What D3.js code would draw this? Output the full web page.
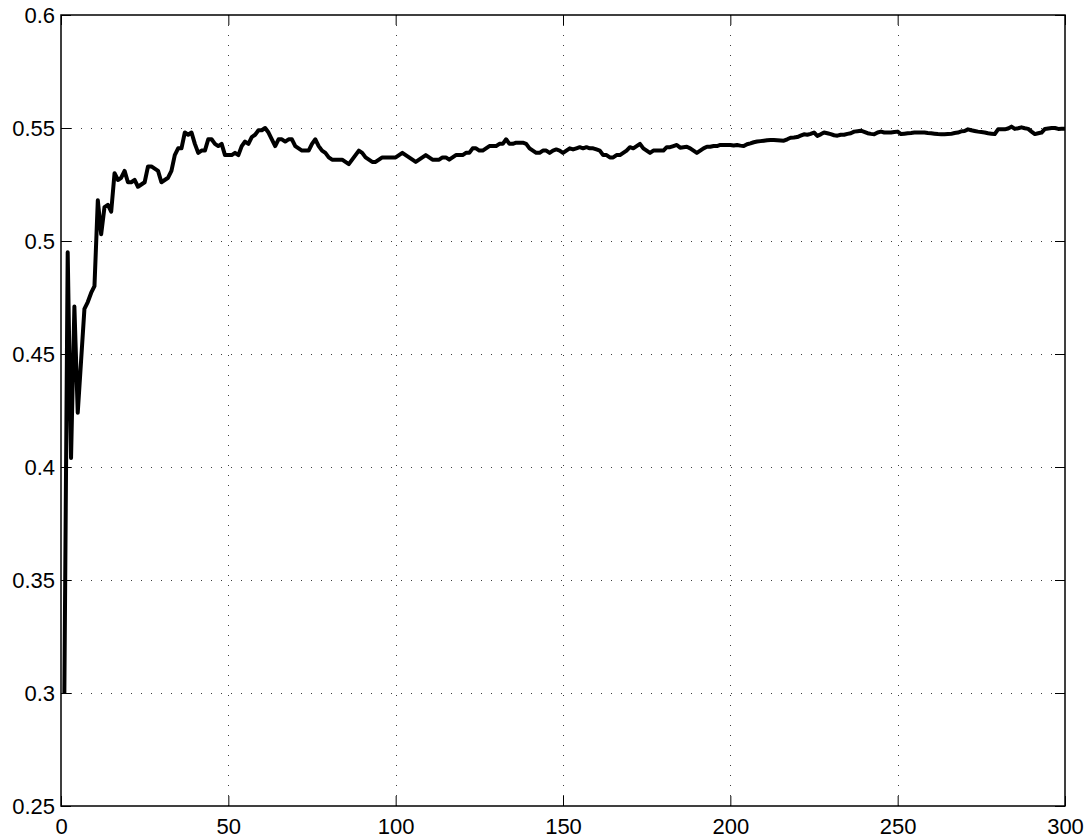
<!DOCTYPE html>
<html>
<head>
<meta charset="utf-8">
<script src="https://cdn.jsdelivr.net/npm/d3@7"></script>
<style>
  html, body { margin: 0; padding: 0; background: #fff; }
  svg { display: block; }
  text { font-family: "Liberation Sans", Arial, Helvetica, sans-serif; }
</style>
</head>
<body>
<svg id="chart" width="1088" height="839"></svg>
<script>
// ---- data ----
const xTicks = [0, 50, 100, 150, 200, 250, 300];
const yTicks = [0.25, 0.3, 0.35, 0.4, 0.45, 0.5, 0.55, 0.6];
const xDomain = [0, 300];
const yDomain = [0.25, 0.6];

const values = [
  0.300, 0.495, 0.404, 0.471, 0.424, 0.447, 0.470, 0.473, 0.477, 0.480,
  0.518, 0.503, 0.515, 0.516, 0.513, 0.530, 0.527, 0.528, 0.531, 0.526,
  0.526, 0.527, 0.524, 0.525, 0.526, 0.533, 0.533, 0.532, 0.531, 0.526,
  0.527, 0.528, 0.531, 0.538, 0.541, 0.541, 0.548, 0.547, 0.548, 0.543,
  0.539, 0.540, 0.540, 0.545, 0.545, 0.543, 0.542, 0.543, 0.538, 0.538,
  0.538, 0.539, 0.538, 0.542, 0.544, 0.543, 0.546, 0.547, 0.549, 0.549,
  0.550, 0.548, 0.545, 0.542, 0.545, 0.545, 0.544, 0.545, 0.545, 0.542,
  0.541, 0.540, 0.540, 0.540, 0.543, 0.545, 0.542, 0.540, 0.539, 0.537,
  0.536, 0.536, 0.536, 0.536, 0.535, 0.534, 0.536, 0.538, 0.540, 0.539,
  0.537, 0.536, 0.535, 0.535, 0.536, 0.537, 0.537, 0.537, 0.537, 0.537,
  0.538, 0.539, 0.538, 0.537, 0.536, 0.535, 0.536, 0.537, 0.538, 0.537,
  0.536, 0.536, 0.536, 0.537, 0.537, 0.536, 0.537, 0.538, 0.538, 0.538,
  0.539, 0.539, 0.541, 0.541, 0.540, 0.540, 0.541, 0.542, 0.542, 0.542,
  0.543, 0.543, 0.545, 0.543, 0.543, 0.5435, 0.5435, 0.5435, 0.543, 0.541,
  0.540, 0.539, 0.539, 0.540, 0.540, 0.539, 0.540, 0.5405, 0.540, 0.539,
  0.540, 0.541, 0.5405, 0.541, 0.5415, 0.541, 0.5415, 0.541, 0.541, 0.5405,
  0.540, 0.538, 0.538, 0.537, 0.537, 0.538, 0.538, 0.539, 0.540, 0.5415,
  0.541, 0.542, 0.543, 0.541, 0.540, 0.539, 0.540, 0.540, 0.540, 0.540,
  0.5415, 0.5415, 0.542, 0.5425, 0.5413, 0.5415, 0.5417, 0.541, 0.540, 0.539,
  0.540, 0.541, 0.5417, 0.5417, 0.542, 0.542, 0.5425, 0.5425, 0.5425, 0.5425,
  0.5423, 0.5425, 0.5422, 0.542, 0.5428, 0.5432, 0.5437, 0.544, 0.5442, 0.5444,
  0.5446, 0.5447, 0.5447, 0.5446, 0.5445, 0.5444, 0.545, 0.5457, 0.5458, 0.546,
  0.5466, 0.5472, 0.547, 0.5474, 0.548, 0.5465, 0.5472, 0.548, 0.5477, 0.5473,
  0.5468, 0.5466, 0.547, 0.547, 0.5474, 0.5477, 0.5484, 0.5486, 0.5488, 0.5483,
  0.5477, 0.5474, 0.5472, 0.548, 0.5484, 0.548, 0.548, 0.548, 0.5482, 0.5484,
  0.5473, 0.5475, 0.5477, 0.5478, 0.548, 0.548, 0.548, 0.548, 0.5478, 0.5477,
  0.5475, 0.5473, 0.5472, 0.5472, 0.5473, 0.5474, 0.5478, 0.548, 0.5485, 0.5487,
  0.5494, 0.549, 0.5487, 0.5484, 0.5482, 0.548, 0.5477, 0.5475, 0.5473, 0.5494,
  0.5494, 0.5494, 0.5498, 0.5506, 0.5496, 0.5499, 0.5503, 0.5499, 0.5496, 0.5484,
  0.5473, 0.5477, 0.548, 0.5496, 0.5498, 0.550, 0.550, 0.5496, 0.5497, 0.5497
];
const iterations = values.map((v, i) => i + 1);

// ---- layout ----
const plotLeft = 61, plotRight = 1065, plotTop = 15, plotBottom = 806;
const svg = d3.select("#chart");

const x = d3.scaleLinear().domain(xDomain).range([plotLeft, plotRight]);
const y = d3.scaleLinear().domain(yDomain).range([plotBottom, plotTop]);

// grid lines (dotted)
const grid = svg.append("g").attr("stroke", "#000").attr("stroke-width", 1)
  .attr("stroke-dasharray", "1,9").attr("shape-rendering", "crispEdges").attr("opacity", 0.75);
grid.selectAll("line.gx").data(xTicks.filter(t => t > xDomain[0] && t < xDomain[1])).join("line")
  .attr("class", "gx")
  .attr("x1", d => Math.round(x(d)) + 0.5).attr("x2", d => Math.round(x(d)) + 0.5)
  .attr("y1", plotBottom).attr("y2", plotTop);
grid.selectAll("line.gy").data(yTicks.filter(t => t > yDomain[0] && t < yDomain[1])).join("line")
  .attr("class", "gy")
  .attr("y1", d => Math.round(y(d)) + 0.5).attr("y2", d => Math.round(y(d)) + 0.5)
  .attr("x1", plotLeft).attr("x2", plotRight);

// axes with inward ticks on all four sides
function styleAxis(g) {
  g.select(".domain").remove();
  g.selectAll(".tick line").attr("stroke", "#000").attr("stroke-width", 1);
  g.selectAll("text").attr("fill", "#000").style("font-size", "22px")
    .style("font-family", "'Liberation Sans', Arial, sans-serif");
}
svg.append("g").attr("transform", `translate(0,${plotBottom})`)
  .call(d3.axisBottom(x).tickValues(xTicks).tickFormat(d3.format("d")).tickSizeInner(-10).tickSizeOuter(0).tickPadding(12))
  .call(styleAxis);
svg.append("g").attr("transform", `translate(0,${plotTop})`)
  .call(d3.axisTop(x).tickValues(xTicks).tickFormat("").tickSizeInner(-10).tickSizeOuter(0))
  .call(styleAxis);
svg.append("g").attr("transform", `translate(${plotLeft},0)`)
  .call(d3.axisLeft(y).tickValues(yTicks).tickFormat(d => String(+d.toFixed(2))).tickSizeInner(-10).tickSizeOuter(0).tickPadding(6))
  .call(styleAxis);
svg.append("g").attr("transform", `translate(${plotRight},0)`)
  .call(d3.axisRight(y).tickValues(yTicks).tickFormat("").tickSizeInner(-10).tickSizeOuter(0))
  .call(styleAxis);

// box
svg.append("rect").attr("x", plotLeft).attr("y", plotTop)
  .attr("width", plotRight - plotLeft).attr("height", plotBottom - plotTop)
  .attr("fill", "none").attr("stroke", "#000").attr("stroke-width", 1.5);

// data line
const line = d3.line().x((d, i) => x(iterations[i])).y(d => y(d));
svg.append("path").datum(values)
  .attr("d", line).attr("fill", "none").attr("stroke", "#000")
  .attr("stroke-width", 4).attr("stroke-linejoin", "round").attr("stroke-linecap", "butt");
</script>
</body>
</html>
